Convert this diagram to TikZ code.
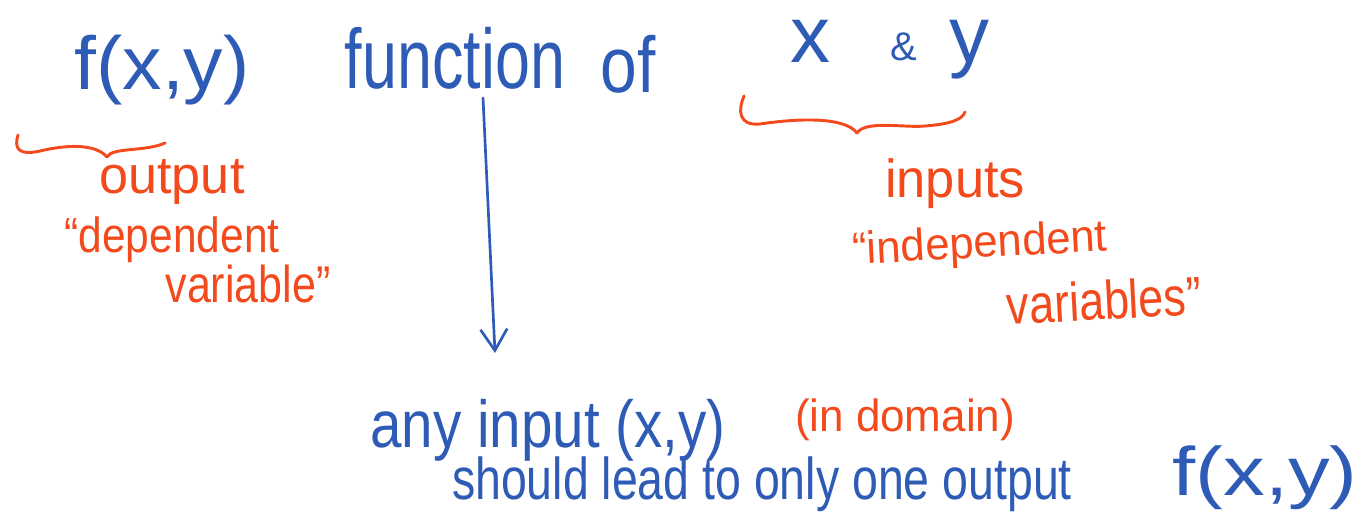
\documentclass[tikz,border=0pt]{standalone}
\usepackage{fontspec}
\setmainfont{Liberation Sans}
\usetikzlibrary{arrows.meta}
\definecolor{penblue}{HTML}{2D5BB5}
\definecolor{penred}{HTML}{F24A1C}
\newlength{\pxl}
\setlength{\pxl}{0.75pt}
% text fitted into a box of W x H reference pixels
\newcommand{\hw}[3]{\resizebox*{#1\pxl}{#2\pxl}{#3}}
\tikzset{
  bluetxt/.style={text=penblue, inner sep=0pt, anchor=center},
  redtxt/.style={text=penred, inner sep=0pt, anchor=center},
  bracepen/.style={draw=penred, line width=2.2pt, line cap=round, line join=round},
  arrowpen/.style={draw=penblue, line width=2pt, line cap=round,
    -{Straight Barb[length=16pt,width=20pt,line width=2pt]}}
}
\begin{document}
\begin{tikzpicture}[x=0.75pt,y=-0.75pt]
\useasboundingbox (0,0) rectangle (1369,525);
% top line
\node[bluetxt] (fxy) at (162,70) {\hw{175}{70}{f(x,y)}};
\node[bluetxt] (func) at (455,58) {\hw{220}{62}{function}};
\node[bluetxt] (of) at (628,64) {\hw{55}{58}{of}};
\node[bluetxt, font=\fontsize{60pt}{60pt}\selectfont] (xy) at (890,50)
  {x\hspace{60\pxl}\raisebox{2\pxl}{\fontsize{30pt}{30pt}\selectfont\&}\hspace{33\pxl}y};
% braces
\draw[bracepen] (18,135) .. controls (14,148) and (18,156) .. (40,151)
  .. controls (65,145) and (95,143) .. (107,157)
  .. controls (112,147) and (145,152) .. (165,143);
\draw[bracepen] (744,96) .. controls (738,110) and (738,126) .. (760,124)
  .. controls (800,118) and (845,117) .. (857,133)
  .. controls (865,120) and (905,128) .. (925,126)
  .. controls (950,124) and (962,120) .. (965,112);
% red labels
\node[redtxt] (output) at (172,182) {\hw{145}{45}{output}};
\node[redtxt] (dep) at (172,240) {\hw{215}{46}{“dependent}};
\node[redtxt] (var) at (248,284) {\hw{165}{38}{variable”}};
\node[redtxt] (inputs) at (955,184) {\hw{140}{50}{inputs}};
\node[redtxt, rotate=3] (indep) at (980,246) {\hw{255}{42}{“independent}};
\node[redtxt, rotate=3] (vars) at (1104,300) {\hw{195}{40}{variables”}};
% arrow
\coordinate (ar1) at (483,98);
\coordinate (ar2) at (495,353);
\draw[arrowpen] (ar1) -- (ar2);
% bottom
\node[bluetxt] (anyin) at (548,430) {\hw{355}{62}{any input (x,y)}};
\node[redtxt] (indomain) at (905,420) {\hw{220}{42}{(in domain)}};
\node[bluetxt] (should) at (762,484) {\hw{620}{55}{should lead to only one output}};
\node[bluetxt] (fxy2) at (1265,478) {\hw{185}{64}{f(x,y)}};
\end{tikzpicture}
\end{document}
